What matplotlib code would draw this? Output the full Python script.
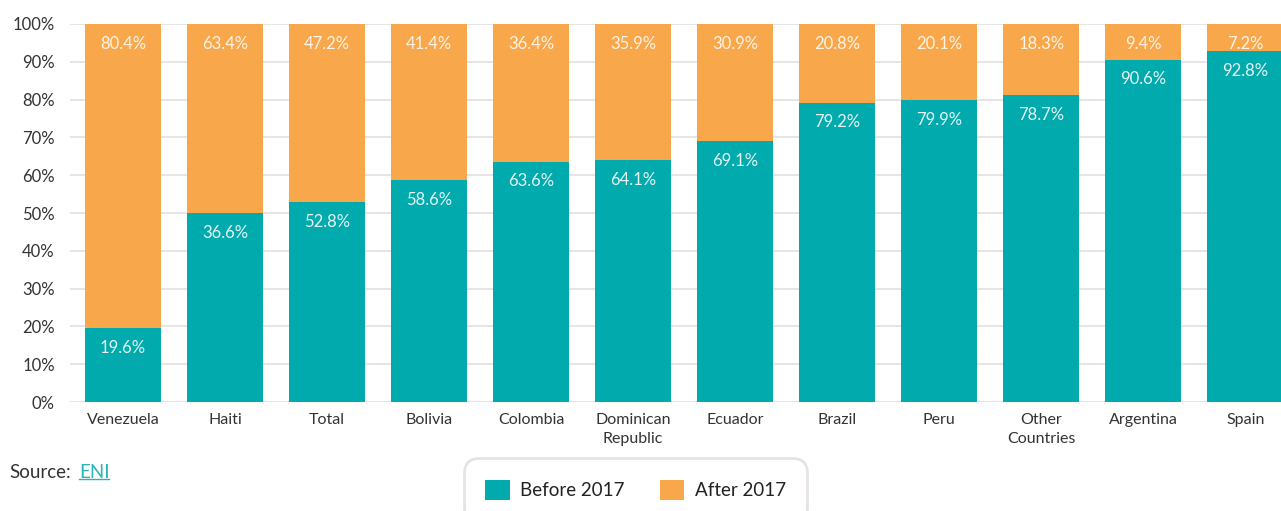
import matplotlib
matplotlib.use("Agg")
import matplotlib.pyplot as plt
from matplotlib.patches import Patch

plt.rcParams['font.family'] = ['Lato', 'DejaVu Sans']

categories = ["Venezuela", "Haiti", "Total", "Bolivia", "Colombia", "Dominican\nRepublic",
              "Ecuador", "Brazil", "Peru", "Other\nCountries", "Argentina", "Spain"]
# stacked shares as drawn (percent of bar)
before_share = [19.6, 50.0, 52.8, 58.6, 63.6, 64.1, 69.1, 79.2, 79.9, 81.1, 90.6, 92.8]
after_share = [80.4, 50.0, 47.2, 41.4, 36.4, 35.9, 30.9, 20.8, 20.1, 18.9, 9.4, 7.2]
# printed labels
before_labels = ["19.6%", "36.6%", "52.8%", "58.6%", "63.6%", "64.1%", "69.1%", "79.2%",
                 "79.9%", "78.7%", "90.6%", "92.8%"]
after_labels = ["80.4%", "63.4%", "47.2%", "41.4%", "36.4%", "35.9%", "30.9%", "20.8%",
                "20.1%", "18.3%", "9.4%", "7.2%"]
yticks = [0, 10, 20, 30, 40, 50, 60, 70, 80, 90, 100]

TEAL = "#00aaad"
ORANGE = "#f9a74b"
TXT = "#333333"

fig = plt.figure(figsize=(12.81, 5.11), dpi=100)
ax = fig.add_axes([70/1281, 109/511, 1213/1281, 378/511])

x = list(range(len(categories)))
ax.bar(x, before_share, width=0.745, color=TEAL, zorder=2)
ax.bar(x, after_share, width=0.745, bottom=before_share, color=ORANGE, zorder=2)

for i in x:
    ax.annotate(before_labels[i], (i, before_share[i]), xytext=(0, -8.5), textcoords="offset points",
                ha="center", va="top", color="#e6f6f5", fontsize=12, zorder=3)
    ax.annotate(after_labels[i], (i, before_share[i] + after_share[i]), xytext=(0, -8.5),
                textcoords="offset points", ha="center", va="top", color="#fff4e6",
                fontsize=12, zorder=3)

ax.set_xlim(-0.52, 11.37)
ax.set_ylim(0, 100)
ax.set_yticks(yticks)
ax.set_yticklabels([f"{v}%" for v in yticks], fontsize=12, color=TXT)
ax.set_xticks(x)
ax.set_xticklabels(categories, fontsize=11.5, color=TXT, linespacing=1.45)
ax.tick_params(axis="both", length=0)
ax.tick_params(axis="y", pad=11)
ax.tick_params(axis="x", pad=8)
ax.grid(axis="y", color="#e7e1e3", linewidth=1.3, zorder=0)
for s in ax.spines.values():
    s.set_visible(False)

fig.text(9/1281, 1 - 472/511, "Source:", fontsize=13.5, color=TXT, va="center", ha="left")
fig.text(79/1281, 1 - 472/511, "ENI", fontsize=13.5, color="#2bb5b8", va="center", ha="left")
fig.add_artist(plt.Line2D([79/1281, 109/1281], [1 - 479/511, 1 - 479/511], color="#2bb5b8", linewidth=1))

handles = [Patch(facecolor=TEAL, label="Before 2017"), Patch(facecolor=ORANGE, label="After 2017")]
leg = fig.legend(handles=handles, loc="center", bbox_to_anchor=(635.5/1281, 1 - 490/511), ncol=2,
                 fontsize=13.5, frameon=True, fancybox=True, handlelength=1.3, handleheight=1.3,
                 handletextpad=0.55, columnspacing=1.9, borderpad=1.15, borderaxespad=0)
for txt in leg.get_texts():
    txt.set_color("#222222")
fr = leg.get_frame()
fr.set_edgecolor("#e2dcdd")
fr.set_linewidth(2)
fr.set_boxstyle("round,pad=0,rounding_size=0.8")

fig.savefig("out.png", dpi=100)
